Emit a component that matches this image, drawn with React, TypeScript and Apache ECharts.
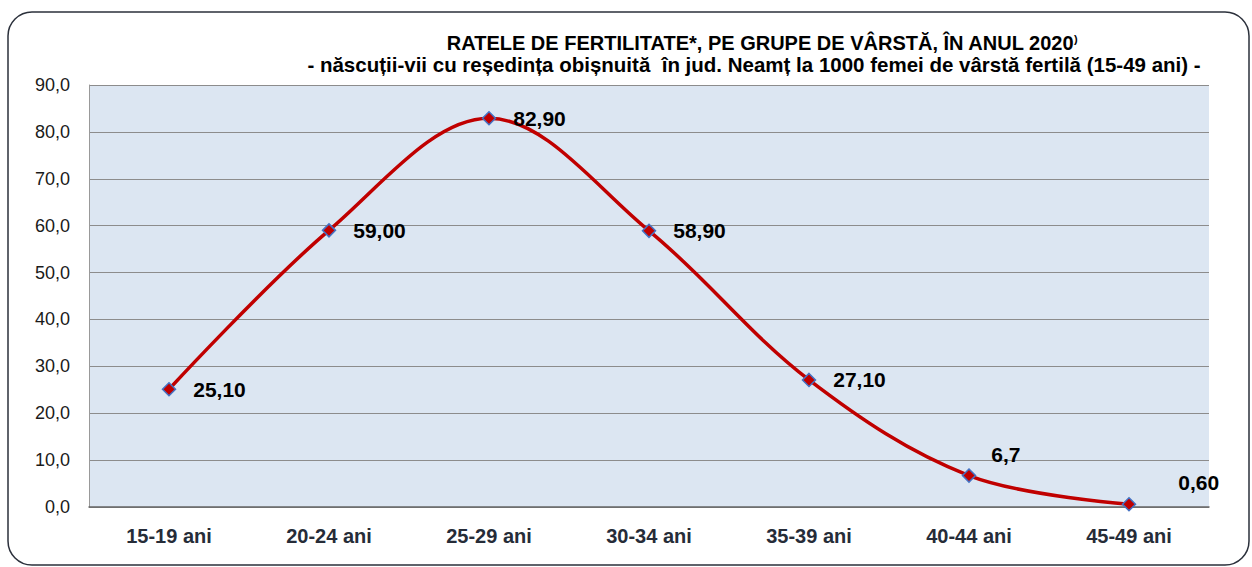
import React, { useEffect, useRef } from "react";
import * as echarts from "echarts";

const categories = ["15-19 ani", "20-24 ani", "25-29 ani", "30-34 ani", "35-39 ani", "40-44 ani", "45-49 ani"];
const values = [25.1, 59.0, 82.9, 58.9, 27.1, 6.7, 0.6];
const valueLabels = ["25,10", "59,00", "82,90", "58,90", "27,10", "6,7", "0,60"];
const yTicks = { min: 0, max: 90, interval: 10 };
const titleText = "RATELE DE FERTILITATE*, PE GRUPE DE VÂRSTĂ, ÎN ANUL 2020";
const subtitleText = "- născuții-vii cu reședința obișnuită  în jud. Neamț la 1000 femei de vârstă fertilă (15-49 ani) -";

const FONT = "'Liberation Sans', Arial, sans-serif";

export default function App() {
  const ref = useRef<HTMLDivElement>(null);
  useEffect(() => {
    document.body.style.margin = "0";
    const chart = echarts.init(ref.current!, undefined, { renderer: "svg" });
    const labelPos: any[] = [
      { distance: 17, offset: [0, 0] },
      { distance: 17, offset: [0, 0] },
      { distance: 17, offset: [0, 0] },
      { distance: 17, offset: [0, 0] },
      { distance: 17, offset: [0, 0] },
      { distance: 15, offset: [0, -21] },
      { distance: 42, offset: [0, -22] },
    ];
    chart.setOption({
      animation: false,
      backgroundColor: "#ffffff",
      title: [
        {
          text: titleText + "{sup|)}",
          left: 762,
          top: 33,
          padding: 0,
          textAlign: "center",
          textStyle: {
            fontFamily: FONT,
            fontSize: 20,
            fontWeight: "bold",
            color: "#000",
            lineHeight: 20,
            rich: { sup: { fontSize: 11, fontWeight: "bold", verticalAlign: "top", lineHeight: 20, padding: [0, 0, 8, 0], fontFamily: FONT } },
          },
        },
        {
          text: subtitleText,
          left: 754,
          top: 54,
          padding: 0,
          textAlign: "center",
          textStyle: { fontFamily: FONT, fontSize: 20.5, fontWeight: "bold", color: "#000", lineHeight: 20 },
        },
      ],
      graphic: [
        {
          type: "rect",
          shape: { x: 8, y: 12, width: 1241, height: 553, r: 24 },
          style: { fill: "none", stroke: "#2b303b", lineWidth: 1.5 },
          silent: true,
          z: 100,
        },
      ],
      grid: { left: 89, right: 43, top: 85, bottom: 60, show: true, backgroundColor: "#dce6f2", borderWidth: 0 },
      xAxis: {
        type: "category",
        data: categories,
        boundaryGap: true,
        axisLine: { show: true, lineStyle: { color: "#666", width: 1.5 } },
        axisTick: { show: false },
        axisLabel: { fontFamily: FONT, fontSize: 20, fontWeight: "bold", color: "#262c38", margin: 19 },
      },
      yAxis: {
        type: "value",
        min: yTicks.min,
        max: yTicks.max,
        interval: yTicks.interval,
        axisLine: { show: true, lineStyle: { color: "#999", width: 1 } },
        axisTick: { show: false },
        splitLine: { show: true, lineStyle: { color: "#8c8c8c", width: 1 } },
        axisLabel: {
          fontFamily: FONT,
          fontSize: 18,
          color: "#1a1a1a",
          margin: 19,
          formatter: (v: number) => v.toFixed(1).replace(".", ","),
        },
      },
      series: [
        {
          type: "line",
          smooth: 0.35,
          data: values.map((v, i) => ({
            value: v,
            label: {
              show: true,
              position: "right",
              distance: labelPos[i].distance,
              offset: labelPos[i].offset,
              formatter: valueLabels[i],
              fontFamily: FONT,
              fontSize: 21,
              fontWeight: "bold",
              color: "#000",
            },
          })),
          lineStyle: { color: "#c00000", width: 3.5 },
          symbol: "diamond",
          symbolSize: 13,
          itemStyle: { color: "#c00000", borderColor: "#4472c4", borderWidth: 1.5 },
          z: 3,
        },
      ],
    });
    return () => chart.dispose();
  }, []);
  return <div ref={ref} style={{ width: 1252, height: 567 }} />;
}
